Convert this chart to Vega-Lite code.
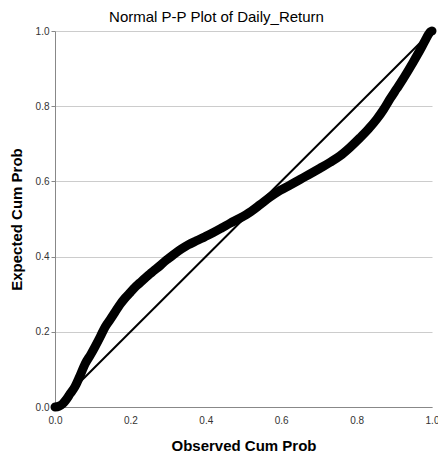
{
  "$schema": "https://vega.github.io/schema/vega-lite/v6.json",
  "autosize": {"type": "none"},
  "width": 377,
  "height": 376,
  "padding": {"left": 55, "top": 31, "right": 6, "bottom": 48},
  "background": "white",
  "config": {
    "view": {"stroke": null},
    "font": "Liberation Sans",
    "axis": {"labelFont": "Liberation Sans", "titleFont": "Liberation Sans"}
  },
  "title": {
    "text": "Normal P-P Plot of Daily_Return",
    "fontSize": 15,
    "fontWeight": "normal",
    "color": "#000000",
    "dx": -27,
    "offset": 1
  },
  "datasets": {
    "curve": [
      {"obs": 0, "exp": 0},
      {"obs": 0.01, "exp": 0.002},
      {"obs": 0.02, "exp": 0.008},
      {"obs": 0.03, "exp": 0.02},
      {"obs": 0.04, "exp": 0.035},
      {"obs": 0.053, "exp": 0.054},
      {"obs": 0.065, "exp": 0.08},
      {"obs": 0.08, "exp": 0.115},
      {"obs": 0.095, "exp": 0.14},
      {"obs": 0.106, "exp": 0.16},
      {"obs": 0.12, "exp": 0.187},
      {"obs": 0.133, "exp": 0.213},
      {"obs": 0.146, "exp": 0.232},
      {"obs": 0.159, "exp": 0.252},
      {"obs": 0.172, "exp": 0.272},
      {"obs": 0.186, "exp": 0.29},
      {"obs": 0.2, "exp": 0.305},
      {"obs": 0.212, "exp": 0.318},
      {"obs": 0.225, "exp": 0.33},
      {"obs": 0.239, "exp": 0.343},
      {"obs": 0.252, "exp": 0.354},
      {"obs": 0.265, "exp": 0.365},
      {"obs": 0.28, "exp": 0.377},
      {"obs": 0.292, "exp": 0.388},
      {"obs": 0.305, "exp": 0.398},
      {"obs": 0.318, "exp": 0.408},
      {"obs": 0.335, "exp": 0.42},
      {"obs": 0.353, "exp": 0.431},
      {"obs": 0.375, "exp": 0.442},
      {"obs": 0.398, "exp": 0.453},
      {"obs": 0.42, "exp": 0.464},
      {"obs": 0.442, "exp": 0.476},
      {"obs": 0.465, "exp": 0.489},
      {"obs": 0.49, "exp": 0.502},
      {"obs": 0.52, "exp": 0.52},
      {"obs": 0.544, "exp": 0.538},
      {"obs": 0.57, "exp": 0.558},
      {"obs": 0.597, "exp": 0.576},
      {"obs": 0.625, "exp": 0.591},
      {"obs": 0.65, "exp": 0.605},
      {"obs": 0.675, "exp": 0.619},
      {"obs": 0.703, "exp": 0.635},
      {"obs": 0.73, "exp": 0.651},
      {"obs": 0.756, "exp": 0.668},
      {"obs": 0.782, "exp": 0.69},
      {"obs": 0.809, "exp": 0.716},
      {"obs": 0.832, "exp": 0.74},
      {"obs": 0.853, "exp": 0.765},
      {"obs": 0.872, "exp": 0.792},
      {"obs": 0.889, "exp": 0.82},
      {"obs": 0.906, "exp": 0.846},
      {"obs": 0.923, "exp": 0.872},
      {"obs": 0.937, "exp": 0.895},
      {"obs": 0.95, "exp": 0.917},
      {"obs": 0.962, "exp": 0.938},
      {"obs": 0.973, "exp": 0.958},
      {"obs": 0.982, "exp": 0.975},
      {"obs": 0.99, "exp": 0.99},
      {"obs": 0.996, "exp": 0.998},
      {"obs": 1.0, "exp": 1.0}
    ],
    "diag": [
      {"obs": 0, "exp": 0},
      {"obs": 1, "exp": 1}
    ]
  },
  "encoding": {
    "x": {
      "field": "obs",
      "type": "quantitative",
      "scale": {"domain": [0, 1], "nice": false},
      "axis": {
        "title": "Observed Cum Prob",
        "values": [0, 0.2, 0.4, 0.6, 0.8, 1.0],
        "format": ".1f",
        "grid": false,
        "ticks": false,
        "tickSize": 0,
        "labelPadding": 8,
        "labelFontSize": 10,
        "labelColor": "#333333",
        "labelFlush": false,
        "domainColor": "#888888",
        "titleFontSize": 15,
        "titleFontWeight": "bold",
        "titleColor": "#000000",
        "titlePadding": 13
      }
    },
    "y": {
      "field": "exp",
      "type": "quantitative",
      "scale": {"domain": [0, 1], "nice": false},
      "axis": {
        "title": "Expected Cum Prob",
        "values": [0, 0.2, 0.4, 0.6, 0.8, 1.0],
        "format": ".1f",
        "grid": true,
        "gridColor": "#cccccc",
        "gridWidth": 1,
        "tickSize": 4,
        "tickColor": "#888888",
        "labelPadding": 2,
        "labelFontSize": 10,
        "labelColor": "#333333",
        "labelFlush": false,
        "domainColor": "#888888",
        "titleFontSize": 15,
        "titleFontWeight": "bold",
        "titleColor": "#000000",
        "titlePadding": 11
      }
    }
  },
  "layer": [
    {
      "data": {"name": "curve"},
      "mark": {"type": "line", "color": "#000000", "strokeWidth": 9, "strokeCap": "round", "strokeJoin": "round", "interpolate": "monotone", "clip": false}
    },
    {
      "data": {"name": "diag"},
      "mark": {"type": "line", "color": "#000000", "strokeWidth": 2}
    }
  ]
}
